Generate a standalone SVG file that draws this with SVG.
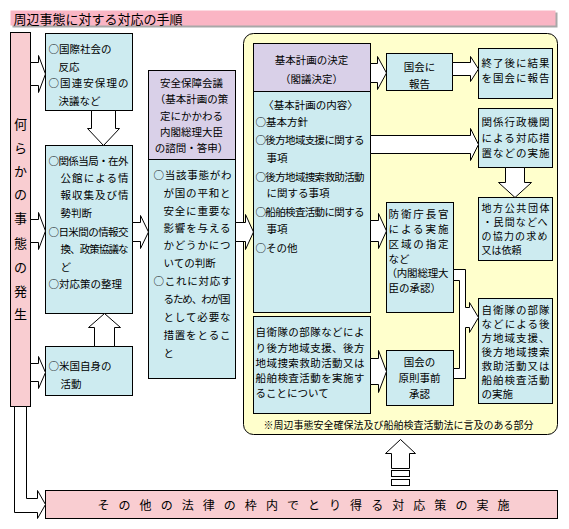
<svg xmlns="http://www.w3.org/2000/svg" width="569" height="529" viewBox="0 0 569 529">
<style>
.b{fill:#CDEBF0;stroke:#000;stroke-width:1}
.p{fill:#D9D0E8;stroke:#000;stroke-width:1}
.k{fill:#F9CDD1;stroke:#000;stroke-width:1}
.a{fill:#fff;stroke:#000;stroke-width:1}
text{font-family:"Noto Sans CJK JP","Noto Sans CJK SC",sans-serif;font-size:10.5px;dominant-baseline:central;fill:#000}
.m{text-anchor:middle}
.v{font-size:13px;text-anchor:middle}
</style>
<rect x="0" y="0" width="569" height="529" fill="#fff"/>
<g transform="translate(0.5,0.5)">
<g id="title">
<rect x="12" y="12" width="545" height="15" fill="#A8A8A8"/>
<rect x="10" y="10" width="545" height="15" fill="#FAB5C4"/>
<text x="13" y="17.5" style="font-size:13px">周辺事態に対する対応の手順</text>
</g>
<g id="container">
<rect x="243" y="33" width="314" height="401" rx="10" fill="#FFFFCC" stroke="#000"/>
<text x="263" y="424" textLength="270" lengthAdjust="spacingAndGlyphs" style="font-size:10px">※周辺事態安全確保法及び船舶検査活動法に言及のある部分</text>
</g>
<g id="occurrence">
<rect class="k" x="10" y="32" width="20" height="374"/>
<text class="v" x="20" y="123">何</text>
<text class="v" x="20" y="147">ら</text>
<text class="v" x="20" y="170">か</text>
<text class="v" x="20" y="193">の</text>
<text class="v" x="20" y="217">事</text>
<text class="v" x="20" y="242">態</text>
<text class="v" x="20" y="266">の</text>
<text class="v" x="20" y="290">発</text>
<text class="v" x="20" y="313">生</text>
</g>
<g id="intl">
<rect class="b" x="45" y="33" width="87" height="77"/>
<text x="48" y="48">○国際社会の</text>
<text x="58" y="66">反応</text>
<text x="48" y="82" textLength="80" lengthAdjust="spacing">○国連安保理の</text>
<text x="58" y="100">決議など</text>
</g>
<g id="info">
<rect class="b" x="45" y="145" width="87" height="168"/>
<text x="48" y="160" textLength="80" lengthAdjust="spacing">○関係当局・在外</text>
<text x="60" y="177" textLength="68" lengthAdjust="spacing">公館による情</text>
<text x="60" y="194" textLength="68" lengthAdjust="spacing">報収集及び情</text>
<text x="60" y="212">勢判断</text>
<text x="48" y="231" textLength="80" lengthAdjust="spacing">○日米間の情報交</text>
<text x="60" y="248" textLength="68" lengthAdjust="spacing">換、政策協議な</text>
<text x="60" y="266">ど</text>
<text x="48" y="283">○対応策の整理</text>
</g>
<g id="us">
<rect class="b" x="45" y="346" width="87" height="49"/>
<text x="48" y="365">○米国自身の</text>
<text x="60" y="383">活動</text>
</g>
<g id="nsc">
<rect class="p" x="148" y="70" width="87" height="89"/>
<rect class="b" x="148" y="159" width="87" height="219"/>
<text class="m" x="191" y="82">安全保障会議</text>
<text class="m" x="191" y="98">（基本計画の策</text>
<text class="m" x="191" y="115">定にかかわる</text>
<text class="m" x="191" y="131">内閣総理大臣</text>
<text class="m" x="191" y="147">の諮問・答申）</text>
<text x="153" y="174" textLength="78" lengthAdjust="spacing">○当該事態がわ</text>
<text x="163" y="192" textLength="67" lengthAdjust="spacing">が国の平和と</text>
<text x="163" y="210" textLength="67" lengthAdjust="spacing">安全に重要な</text>
<text x="163" y="227" textLength="67" lengthAdjust="spacing">影響を与える</text>
<text x="163" y="244" textLength="67" lengthAdjust="spacing">かどうかにつ</text>
<text x="163" y="262">いての判断</text>
<text x="153" y="280" textLength="78" lengthAdjust="spacing">○これに対応す</text>
<text x="163" y="298" textLength="67" lengthAdjust="spacing">るため、わが国</text>
<text x="163" y="316" textLength="67" lengthAdjust="spacing">として必要な</text>
<text x="163" y="334" textLength="67" lengthAdjust="spacing">措置をとるこ</text>
<text x="163" y="352">と</text>
</g>
<g id="plan">
<rect class="p" x="253" y="43" width="117" height="48"/>
<rect class="b" x="253" y="91" width="117" height="221"/>
<text class="m" x="311" y="59">基本計画の決定</text>
<text class="m" x="311" y="78">（閣議決定）</text>
<text class="m" x="310" y="104">〈基本計画の内容〉</text>
<text x="255" y="121">○基本方針</text>
<text x="255" y="139" textLength="109" lengthAdjust="spacing">○後方地域支援に関する</text>
<text x="266" y="157">事項</text>
<text x="255" y="176" textLength="109" lengthAdjust="spacing">○後方地域捜索救助活動</text>
<text x="266" y="192">に関する事項</text>
<text x="255" y="211" textLength="109" lengthAdjust="spacing">○船舶検査活動に関する</text>
<text x="266" y="228">事項</text>
<text x="255" y="247">○その他</text>
</g>
<g id="sdf">
<rect class="b" x="253" y="316" width="117" height="97"/>
<text x="255" y="331" textLength="109" lengthAdjust="spacing">自衛隊の部隊などによ</text>
<text x="255" y="347" textLength="109" lengthAdjust="spacing">り後方地域支援、後方</text>
<text x="255" y="362" textLength="109" lengthAdjust="spacing">地域捜索救助活動又は</text>
<text x="255" y="377" textLength="109" lengthAdjust="spacing">船舶検査活動を実施す</text>
<text x="255" y="392">ることについて</text>
</g>
<g id="report">
<rect class="b" x="386" y="53" width="66" height="37"/>
<text class="m" x="419" y="66">国会に</text>
<text class="m" x="419" y="83">報告</text>
</g>
<g id="final">
<rect class="b" x="478" y="48" width="74" height="50"/>
<text x="481" y="62" textLength="68" lengthAdjust="spacing">終了後に結果</text>
<text x="481" y="77" textLength="68" lengthAdjust="spacing">を国会に報告</text>
</g>
<g id="agencies">
<rect class="b" x="478" y="108" width="74" height="59"/>
<text x="481" y="121" textLength="68" lengthAdjust="spacing">関係行政機関</text>
<text x="481" y="137" textLength="68" lengthAdjust="spacing">による対応措</text>
<text x="481" y="152" textLength="68" lengthAdjust="spacing">置などの実施</text>
</g>
<g id="local">
<rect class="b" x="478" y="197" width="74" height="63"/>
<text x="481" y="207" textLength="68" lengthAdjust="spacing" style="font-size:10px">地方公共団体</text>
<text x="482" y="221" textLength="65" lengthAdjust="spacing" style="font-size:10px">・民間などへ</text>
<text x="481" y="235" textLength="66" lengthAdjust="spacing" style="font-size:10px">の協力の求め</text>
<text x="481" y="249" style="font-size:10px">又は依頼</text>
</g>
<g id="jda">
<rect class="b" x="386" y="202" width="67" height="110"/>
<text x="388" y="213" textLength="60" lengthAdjust="spacing">防衛庁長官</text>
<text x="388" y="228" textLength="60" lengthAdjust="spacing">による実施</text>
<text x="388" y="243" textLength="60" lengthAdjust="spacing">区域の指定</text>
<text x="388" y="258">など</text>
<text x="386" y="272" textLength="62" lengthAdjust="spacing">（内閣総理大</text>
<text x="388" y="287">臣の承認）</text>
</g>
<g id="diet">
<rect class="b" x="386" y="350" width="67" height="55"/>
<text class="m" x="419" y="361">国会の</text>
<text class="m" x="419" y="377">原則事前</text>
<text class="m" x="419" y="393">承認</text>
</g>
<g id="impl">
<rect class="b" x="478" y="298" width="74" height="105"/>
<text x="481" y="309" textLength="68" lengthAdjust="spacing">自衛隊の部隊</text>
<text x="481" y="323" textLength="68" lengthAdjust="spacing">などによる後</text>
<text x="481" y="337" textLength="68" lengthAdjust="spacing">方地域支援、</text>
<text x="481" y="351" textLength="68" lengthAdjust="spacing">後方地域捜索</text>
<text x="481" y="365" textLength="68" lengthAdjust="spacing">救助活動又は</text>
<text x="481" y="379" textLength="68" lengthAdjust="spacing">船舶検査活動</text>
<text x="481" y="393">の実施</text>
</g>
<g id="other">
<rect class="k" x="45" y="490" width="512" height="28"/>
<text x="97" y="504" textLength="412" lengthAdjust="spacing" style="font-size:12px">その他の法律の枠内でとり得る対応策の実施</text>
</g>
<g id="connectors">
<polygon class="a" points="30,62 38,62 38,55 45,73.5 38,92 38,85 30,85"/>
<polygon class="a" points="30,219 38,219 38,212 45,230.5 38,249 38,242 30,242"/>
<polygon class="a" points="30,363 38,363 38,356 45,372 38,388 38,381 30,381"/>
<polygon class="a" points="132,222 140,222 140,215 148,231.5 140,248 140,241 132,241"/>
<polygon class="a" points="235,222 245,222 245,214 253,231.5 245,249 245,241 235,241"/>
<polygon class="a" points="370,63 377,63 377,56 386,72.5 377,89 377,82 370,82"/>
<polygon class="a" points="452,62 470,62 470,56 478,68.5 470,81 470,75 452,75"/>
<polygon class="a" points="370,135 470,135 470,128 478,144 470,160 470,153 370,153"/>
<polygon class="a" points="370,220 378,220 378,213 386,230.5 378,248 378,241 370,241"/>
<polygon class="a" points="370,358 378,358 378,350 386,371 378,392 378,384 370,384"/>
<polygon class="a" points="91,110 115,110 115,128 119,128 103,145 87,128 91,128"/>
<polygon class="a" points="505,167 524,167 524,182 531,182 514.5,197 498,182 505,182"/>
<polygon class="a" points="94,346 94,327 88,327 104,313 120,327 114,327 114,346"/>
<polygon class="a" points="391,468 391,453 385,453 400,439 415,453 409,453 409,468"/>
<rect class="a" x="391" y="470" width="18" height="6"/>
<rect class="a" x="391" y="479" width="18" height="6"/>
<polygon class="a" points="14,406 14,512 37,512 37,518 45,504 37,490 37,498 26,498 26,406"/>
<polygon class="a" points="453,269 465,269 465,307 469,307 469,302 478,317 469,332 469,327 465,327 465,378 453,378 453,368 459,368 459,280 453,280"/>
</g>
</g>
</svg>
